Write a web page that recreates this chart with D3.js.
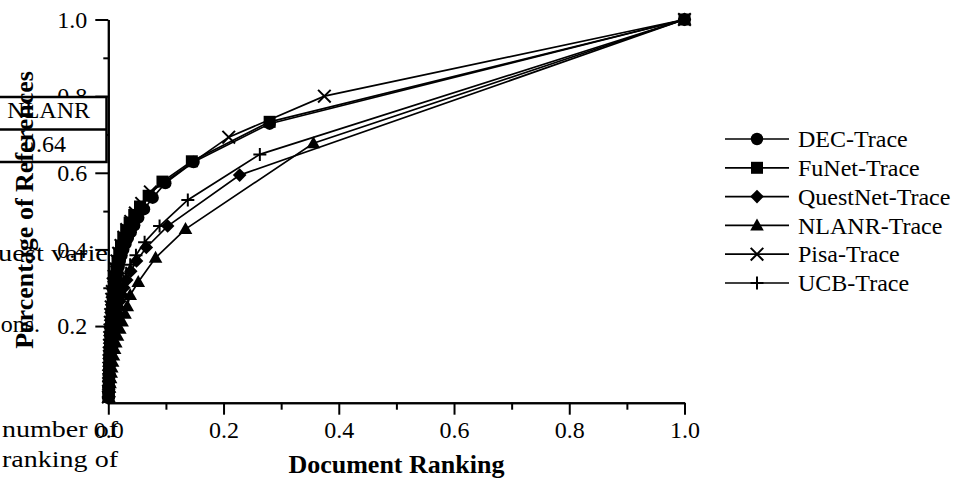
<!DOCTYPE html>
<html>
<head>
<meta charset="utf-8">
<script src="https://cdn.jsdelivr.net/npm/d3@7"></script>
<style>
  html, body { margin: 0; padding: 0; background: #fff; }
  svg { display: block; }
  text { font-family: "Liberation Serif", "Times New Roman", serif; fill: #000; }
</style>
</head>
<body>
<svg id="chart" width="955" height="480"></svg>
<script>
// ---------------- data ----------------
const seriesNames = ["DEC-Trace", "FuNet-Trace", "QuestNet-Trace", "NLANR-Trace", "Pisa-Trace", "UCB-Trace"];
const seriesMarkers = ["circle", "square", "diamond", "triangle", "cross", "plus"];

const decTrace = [[1,1],[0.28,0.728],[0.148,0.628],[0.099,0.573],[0.077,0.535],[0.062,0.505],[0.052,0.483],[0.045,0.463],[0.039,0.445],[0.034,0.43],[0.030,0.415],[0.026,0.40],[0.023,0.385],[0.020,0.37],[0.018,0.355],[0.016,0.34],[0.014,0.325],[0.012,0.31],[0.011,0.295],[0.0095,0.28],[0.0085,0.265],[0.0075,0.25],[0.0065,0.235],[0.0058,0.22],[0.005,0.205],[0.0044,0.19],[0.0038,0.175],[0.0033,0.16],[0.0028,0.145],[0.0024,0.13],[0.002,0.115],[0.0017,0.10],[0.0014,0.085],[0.0011,0.07],[0.0009,0.055],[0.0007,0.04],[0.0005,0.025],[0.0003,0.012]];
const funetTrace = [[1,1],[0.28,0.733],[0.145,0.63],[0.094,0.577],[0.07,0.54],[0.055,0.512],[0.045,0.49],[0.037,0.47],[0.031,0.45],[0.026,0.43],[0.022,0.41],[0.019,0.39],[0.016,0.37],[0.014,0.35],[0.012,0.33],[0.010,0.31],[0.0088,0.29],[0.0076,0.27],[0.0066,0.25],[0.0057,0.23],[0.0049,0.21],[0.0042,0.19],[0.0036,0.17],[0.003,0.15],[0.0025,0.13],[0.002,0.11],[0.0016,0.09],[0.0012,0.07],[0.0009,0.05],[0.0006,0.03],[0.0003,0.015]];
const questnetTrace = [[1,1],[0.228,0.594],[0.103,0.461],[0.066,0.405],[0.049,0.37],[0.039,0.343],[0.032,0.32],[0.027,0.30],[0.023,0.282],[0.020,0.265],[0.017,0.249],[0.015,0.234],[0.013,0.22],[0.011,0.205],[0.0095,0.19],[0.0082,0.175],[0.007,0.16],[0.006,0.145],[0.005,0.13],[0.0042,0.115],[0.0034,0.10],[0.0027,0.085],[0.0021,0.07],[0.0016,0.055],[0.0011,0.04],[0.0007,0.027],[0.0003,0.013]];
const nlanrTrace = [[1,1],[0.356,0.677],[0.134,0.453],[0.082,0.378],[0.052,0.315],[0.038,0.281],[0.033,0.252],[0.029,0.232],[0.024,0.212],[0.020,0.193],[0.016,0.175],[0.013,0.157],[0.011,0.14],[0.009,0.123],[0.0075,0.107],[0.006,0.092],[0.005,0.078],[0.004,0.064],[0.003,0.051],[0.0022,0.039],[0.0015,0.027],[0.0008,0.015]];
const pisaTrace = [[1,1],[0.375,0.80],[0.209,0.693],[0.073,0.55],[0.058,0.52],[0.047,0.495],[0.039,0.473],[0.032,0.452],[0.027,0.432],[0.022,0.41],[0.018,0.39],[0.015,0.37],[0.012,0.35],[0.010,0.33],[0.0085,0.31],[0.007,0.29],[0.006,0.27],[0.005,0.25],[0.0042,0.23],[0.0035,0.21],[0.003,0.19],[0.0025,0.17],[0.002,0.15],[0.0016,0.13],[0.0013,0.11],[0.001,0.09],[0.0008,0.07],[0.0006,0.05],[0.0004,0.03],[0.0002,0.015]];
const ucbTrace = [[1,1],[0.263,0.648],[0.138,0.529],[0.089,0.461],[0.063,0.419],[0.048,0.385],[0.038,0.36],[0.031,0.338],[0.026,0.318],[0.022,0.30],[0.019,0.283],[0.016,0.267],[0.014,0.252],[0.012,0.237],[0.010,0.222],[0.0088,0.207],[0.0076,0.192],[0.0065,0.177],[0.0055,0.162],[0.0046,0.147],[0.0038,0.132],[0.0031,0.117],[0.0025,0.102],[0.002,0.087],[0.0015,0.072],[0.0011,0.057],[0.0008,0.042],[0.0005,0.027],[0.0002,0.012]];
const seriesData = [decTrace, funetTrace, questnetTrace, nlanrTrace, pisaTrace, ucbTrace];

const xTicks = [0, 0.2, 0.4, 0.6, 0.8, 1.0];
const xMinorTicks = [0.1, 0.3, 0.5, 0.7, 0.9];
const yTicks = [0.2, 0.4, 0.6, 0.8, 1.0];
const yMinorTicks = [0.1, 0.3, 0.5, 0.7, 0.9];
const xTitle = "Document Ranking";
const yTitle = "Percentage of References";

// stray text fragments visible in the reference
const boxTexts = ["NLANR", "0.64"];
const bodyFragments = ["uest varie", "ons.", "number of", "ranking of"];

// ---------------- drawing ----------------
const svg = d3.select("#chart");
const x = d3.scaleLinear().domain([0, 1]).range([108.3, 684.5]);
const y = d3.scaleLinear().domain([0, 1]).range([402.7, 19.5]);

// body text fragments behind the chart
const bodyG = svg.append("g").attr("font-size", 24);
bodyG.append("text").attr("x", -2).attr("y", 261).attr("textLength", 110)
  .attr("lengthAdjust", "spacingAndGlyphs").text(bodyFragments[0]);
bodyG.append("text").attr("x", 40).attr("y", 332).attr("text-anchor", "end").text(bodyFragments[1]);
bodyG.append("text").attr("x", 2).attr("y", 437).attr("textLength", 116)
  .attr("lengthAdjust", "spacingAndGlyphs").text(bodyFragments[2]);
bodyG.append("text").attr("x", 2).attr("y", 467).attr("textLength", 116)
  .attr("lengthAdjust", "spacingAndGlyphs").text(bodyFragments[3]);

// axes
function styleAxis(g) {
  g.select(".domain").attr("stroke", "#000").attr("stroke-width", 2);
  g.selectAll(".tick line").attr("stroke", "#000").attr("stroke-width", 2);
  g.selectAll(".tick text").attr("font-family", "Liberation Serif, serif").attr("font-size", 24).attr("fill", "#000");
}
const fmt = d3.format(".1f");
const gx = svg.append("g").attr("transform", `translate(0,${y(0)})`)
  .call(d3.axisBottom(x).tickValues(xTicks).tickFormat(fmt).tickSize(12).tickSizeOuter(0).tickPadding(6));
styleAxis(gx);
const gxm = svg.append("g").attr("transform", `translate(0,${y(0)})`)
  .call(d3.axisBottom(x).tickValues(xMinorTicks).tickFormat("").tickSize(7).tickSizeOuter(0));
styleAxis(gxm);
const gy = svg.append("g").attr("transform", `translate(${x(0)},0)`)
  .call(d3.axisLeft(y).tickValues(yTicks).tickFormat(fmt).tickSize(13).tickSizeOuter(0).tickPadding(8));
styleAxis(gy);
const gym = svg.append("g").attr("transform", `translate(${x(0)},0)`)
  .call(d3.axisLeft(y).tickValues(yMinorTicks).tickFormat("").tickSize(5).tickSizeOuter(0));
styleAxis(gym);

// markers
function markerPath(type) {
  switch (type) {
    case "square": return "M-6,-6H6V6H-6Z";
    case "diamond": return "M0,-6.8L6.8,0L0,6.8L-6.8,0Z";
    case "triangle": return "M0,-7L6.8,5L-6.8,5Z";
    case "cross": return "M-6.3,-6.3L6.3,6.3M-6.3,6.3L6.3,-6.3";
    case "plus": return "M-6.5,0H6.5M0,-6.5V6.5";
    default: return null;
  }
}
function drawMarker(g, type, cx, cy) {
  if (type === "circle") {
    g.append("circle").attr("cx", cx).attr("cy", cy).attr("r", 6.2).attr("fill", "#000");
  } else if (type === "cross" || type === "plus") {
    g.append("path").attr("d", markerPath(type)).attr("transform", `translate(${cx},${cy})`)
      .attr("fill", "none").attr("stroke", "#000").attr("stroke-width", 2);
  } else {
    g.append("path").attr("d", markerPath(type)).attr("transform", `translate(${cx},${cy})`)
      .attr("fill", "#000");
  }
}

const line = d3.line().x(d => x(d[0])).y(d => y(d[1]));
seriesData.forEach((data, i) => {
  const g = svg.append("g");
  const sorted = data.slice().sort((a, b) => a[0] - b[0]);
  g.append("path").attr("d", line(sorted)).attr("fill", "none").attr("stroke", "#000").attr("stroke-width", 1.7);
  sorted.forEach(d => drawMarker(g, seriesMarkers[i], x(d[0]), y(d[1])));
});

// legend
const legend = svg.append("g");
seriesNames.forEach((name, i) => {
  const cy = 139 + i * 28.8;
  legend.append("line").attr("x1", 725).attr("x2", 789).attr("y1", cy).attr("y2", cy)
    .attr("stroke", "#000").attr("stroke-width", 1.7);
  drawMarker(legend, seriesMarkers[i], 757, cy);
  legend.append("text").attr("x", 798).attr("y", cy).attr("dy", "0.34em")
    .attr("font-size", 24).text(name);
});

// stray table box over the axis labels
const box = svg.append("g");
box.append("rect").attr("x", -10).attr("y", 97).attr("width", 116.5).attr("height", 65)
  .attr("fill", "#fff").attr("stroke", "#000").attr("stroke-width", 2.5);
box.append("line").attr("x1", -10).attr("x2", 106.5).attr("y1", 129.5).attr("y2", 129.5)
  .attr("stroke", "#000").attr("stroke-width", 2.5);
box.append("text").attr("x", 90).attr("y", 118).attr("text-anchor", "end").attr("font-size", 24).text(boxTexts[0]);
box.append("text").attr("x", 66).attr("y", 152).attr("text-anchor", "end").attr("font-size", 24).text(boxTexts[1]);

// axis titles
svg.append("text").attr("x", (x(0) + x(1)) / 2).attr("y", 473).attr("text-anchor", "middle")
  .attr("font-size", 26).attr("font-weight", "bold").text(xTitle);
svg.append("text").attr("transform", "translate(33,210) rotate(-90)").attr("text-anchor", "middle")
  .attr("font-size", 26).attr("font-weight", "bold").text(yTitle);
</script>
</body>
</html>
